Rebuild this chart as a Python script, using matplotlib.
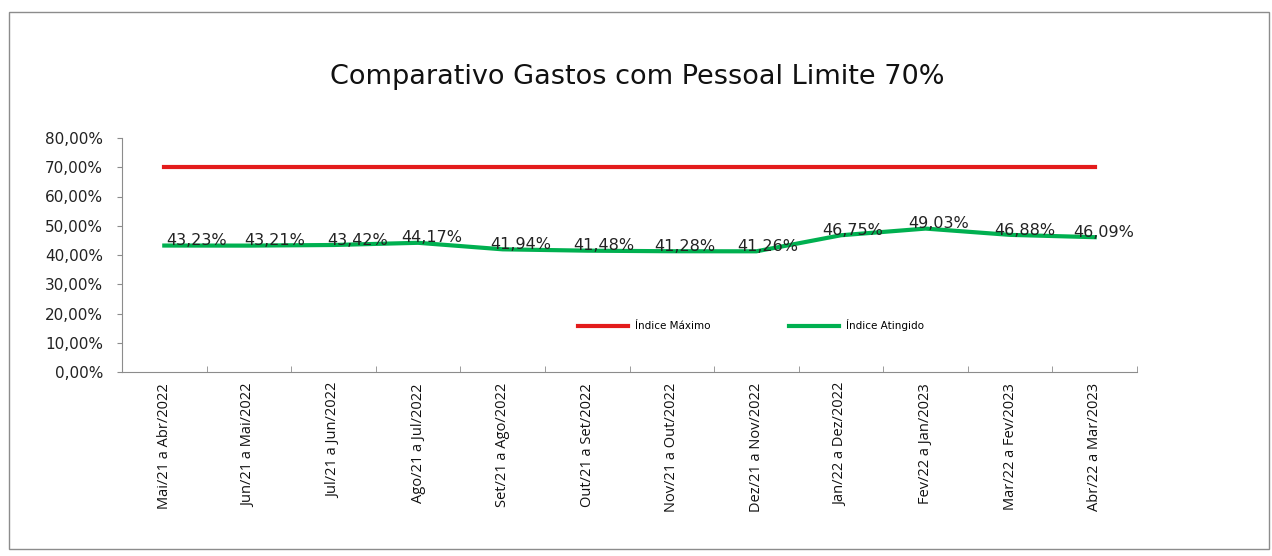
import matplotlib.pyplot as plt
from matplotlib.patches import Rectangle
from matplotlib.ticker import FuncFormatter, FixedLocator


periodos = [
    "Mai/21 a Abr/2022", "Jun/21 a Mai/2022", "Jul/21 a Jun/2022",
    "Ago/21 a Jul/2022", "Set/21 a Ago/2022", "Out/21 a Set/2022",
    "Nov/21 a Out/2022", "Dez/21 a Nov/2022", "Jan/22 a Dez/2022",
    "Fev/22 a Jan/2023", "Mar/22 a Fev/2023", "Abr/22 a Mar/2023",
]
indice_atingido = [43.23, 43.21, 43.42, 44.17, 41.94, 41.48,
                   41.28, 41.26, 46.75, 49.03, 46.88, 46.09]
indice_maximo = [70.0] * len(periodos)

TITULO = "Comparativo Gastos com Pessoal Limite 70%"

# deslocamento horizontal (pt) de cada rótulo de dado, como no original
desloc_rotulos = [23.5, 18.8, 17.3, 9.9, 13.2, 11.7, 9.4, 8.3, 8.6, 9.6, 10.6, 6.2]


def fmt_pct(v, _pos=None):
    return f"{v:.2f}%".replace(".", ",")


fig = plt.figure(figsize=(12.72, 5.56), dpi=100)
ax = fig.add_axes([122 / 1272, 1 - 372 / 556, (1137 - 122) / 1272, (372 - 138) / 556])

# moldura externa do gráfico
fig.patches.append(Rectangle((9 / 1272, 1 - 549 / 556), 1260 / 1272, 537 / 556,
                             transform=fig.transFigure, fill=False,
                             edgecolor="#8c8c8c", lw=1))

x = list(range(len(periodos)))
ax.plot(x, indice_maximo, color="#e31b1b", lw=3, label="Índice Máximo")
ax.plot(x, indice_atingido, color="#00b050", lw=3, label="Índice Atingido")

for xi, v, dx in zip(x, indice_atingido, desloc_rotulos):
    ax.annotate(fmt_pct(v), (xi, v), xytext=(dx, 3.5), textcoords="offset points",
                ha="center", va="center", fontsize=11.5, color="#222222")

ax.set_xlim(-0.5, len(periodos) - 0.5)
ax.set_ylim(0, 80)
ax.set_yticks(range(0, 81, 10))
ax.yaxis.set_major_formatter(FuncFormatter(fmt_pct))
ax.tick_params(axis="y", labelsize=11, length=3.6, color="#8c8c8c", pad=10,
               labelcolor="#222222")

ax.set_xticks(x)
ax.set_xticklabels(periodos, rotation=90, fontsize=10.5, family="Open Sans")
ax.tick_params(axis="x", length=0, pad=8, labelcolor="#111111")
ax.xaxis.set_minor_locator(FixedLocator([i - 0.5 for i in range(len(periodos) + 1)]))
ax.tick_params(axis="x", which="minor", length=4, direction="in", color="#8c8c8c")

for lado in ["top", "right"]:
    ax.spines[lado].set_visible(False)
for lado in ["left", "bottom"]:
    ax.spines[lado].set_color("#8c8c8c")

ax.legend(loc="center", bbox_to_anchor=(0.62, 0.2), ncol=2, frameon=False,
          fontsize=7.5, handlelength=4.8, handletextpad=0.7, columnspacing=7.5)

fig.text(637 / 1272, 1 - 77 / 556, TITULO, ha="center", va="center",
         fontsize=19.5, color="#111111")

fig.savefig("out.png", dpi=100, facecolor="white")
